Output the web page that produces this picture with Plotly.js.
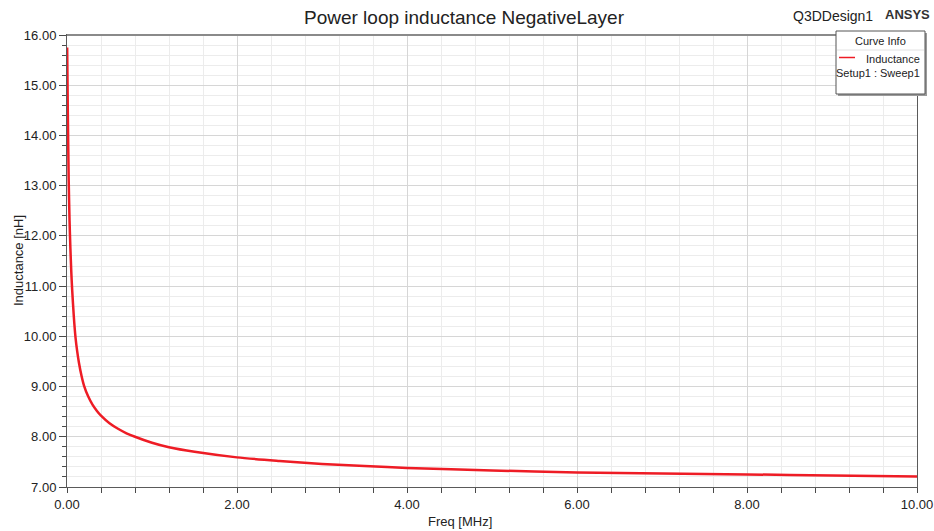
<!DOCTYPE html>
<html>
<head>
<meta charset="utf-8">
<script src="https://cdn.plot.ly/plotly-3.0.1.min.js"></script>
<style>
  html, body { margin: 0; padding: 0; background: #ffffff; }
  #chart { width: 934px; height: 531px; }
</style>
</head>
<body>
<div id="chart"></div>
<script>
// Frequency sweep (MHz) and loop inductance (nH)
const freqMHz = [0.002, 0.01, 0.02, 0.03, 0.04, 0.05, 0.06, 0.08, 0.1, 0.12, 0.14, 0.17,
  0.2, 0.25, 0.3, 0.35, 0.4, 0.5, 0.6, 0.7, 0.8, 1.0, 1.2, 1.5, 2.0, 2.5, 3.0, 3.5,
  4.0, 5.0, 6.0, 7.0, 8.0, 9.0, 10.0];
const inductanceNH = [15.75, 14.4, 13.1, 12.3, 11.75, 11.3, 10.95, 10.4, 9.98, 9.7, 9.48, 9.22,
  9.02, 8.8, 8.64, 8.52, 8.42, 8.27, 8.16, 8.07, 8.0, 7.88, 7.79, 7.7, 7.59, 7.52, 7.46, 7.42,
  7.38, 7.33, 7.29, 7.27, 7.25, 7.23, 7.21];

const curveName = 'Inductance';
const curveSetup = 'Setup1 : Sweep1';
const designName = 'Q3DDesign1';
const vendor = 'ANSYS';

const W = 934, H = 531;
const M = { l: 67, r: 17, t: 35, b: 44 };
const PW = W - M.l - M.r, PH = H - M.t - M.b;
// pixel -> paper helpers for the decorations around the plot
const px = x => (x - M.l) / PW;
const py = y => (H - M.b - y) / PH;

const FONT = 'Arial, "Liberation Sans", sans-serif';
const RED = '#ee1c25';

const trace = {
  x: freqMHz,
  y: inductanceNH,
  type: 'scatter',
  mode: 'lines',
  line: { color: RED, width: 2.5, shape: 'spline', smoothing: 0.7 },
  hoverinfo: 'x+y',
  showlegend: false
};

const axisCommon = {
  showline: true, linecolor: '#5a5a5a', linewidth: 1, mirror: true,
  ticks: 'outside', tickcolor: '#4a4a4a', tickwidth: 1,
  tickformat: '.2f', zeroline: false,
  tickfont: { family: FONT, size: 13, color: '#222' },
  gridcolor: '#d6d6d6', gridwidth: 1
};

const layout = {
  width: W, height: H,
  margin: M,
  paper_bgcolor: '#ffffff', plot_bgcolor: '#ffffff',
  font: { family: FONT, color: '#222' },
  title: {
    text: 'Power loop inductance NegativeLayer',
    font: { family: FONT, size: 19, color: '#222' },
    xref: 'container', yref: 'container',
    x: 464 / W, y: 1 - 17 / H, xanchor: 'center', yanchor: 'middle'
  },
  xaxis: Object.assign({}, axisCommon, {
    range: [0, 10], tick0: 0, dtick: 2, ticklen: 5,
    minor: { dtick: 0.4, tick0: 0, ticks: 'outside', ticklen: 5, tickcolor: '#4a4a4a',
             showgrid: true, gridcolor: '#ececec', gridwidth: 1 }
  }),
  yaxis: Object.assign({}, axisCommon, {
    range: [7, 16], tick0: 7, dtick: 1, ticklen: 7,
    minor: { dtick: 0.2, tick0: 7, ticks: 'outside', ticklen: 4, tickcolor: '#4a4a4a',
             showgrid: true, gridcolor: '#ececec', gridwidth: 1 }
  }),
  shapes: [
    // heavier top frame edge
    { type: 'line', xref: 'paper', yref: 'paper', x0: 0, x1: 1, y0: 1, y1: 1,
      line: { color: '#8a8a8a', width: 2 }, layer: 'above' },
    // curve info box with drop shadow
    { type: 'rect', xref: 'paper', yref: 'paper', x0: px(838), x1: px(927), y0: py(33), y1: py(96),
      fillcolor: '#9a9a9a', line: { width: 0 }, layer: 'above' },
    { type: 'rect', xref: 'paper', yref: 'paper', x0: px(836), x1: px(925), y0: py(31), y1: py(94),
      fillcolor: '#ffffff', line: { color: '#555', width: 1 }, layer: 'above' },
    { type: 'line', xref: 'paper', yref: 'paper', x0: px(837), x1: px(924), y0: py(50), y1: py(50),
      line: { color: '#e2e2e2', width: 1 }, layer: 'above' },
    { type: 'line', xref: 'paper', yref: 'paper', x0: px(839), x1: px(855), y0: py(57.5), y1: py(57.5),
      line: { color: RED, width: 1.5 }, layer: 'above' }
  ],
  annotations: [
    { text: 'Freq [MHz]', xref: 'paper', yref: 'paper', x: px(460), y: py(521),
      xanchor: 'center', yanchor: 'middle', showarrow: false,
      font: { family: FONT, size: 13, color: '#222' } },
    { text: 'Inductance [nH]', xref: 'paper', yref: 'paper', x: px(18), y: py(261),
      xanchor: 'center', yanchor: 'middle', showarrow: false, textangle: -90,
      font: { family: FONT, size: 13, color: '#222' } },
    { text: designName, xref: 'paper', yref: 'paper', x: px(875), y: py(16),
      xanchor: 'right', yanchor: 'middle', showarrow: false,
      font: { family: FONT, size: 14, color: '#222' } },
    { text: '<b>' + vendor + '</b>', xref: 'paper', yref: 'paper', x: px(932), y: py(14),
      xanchor: 'right', yanchor: 'middle', showarrow: false,
      font: { family: FONT, size: 13, color: '#333' } },
    { text: 'Curve Info', xref: 'paper', yref: 'paper', x: px(880.5), y: py(41),
      xanchor: 'center', yanchor: 'middle', showarrow: false,
      font: { family: FONT, size: 11, color: '#222' } },
    { text: curveName, xref: 'paper', yref: 'paper', x: px(922), y: py(59),
      xanchor: 'right', yanchor: 'middle', showarrow: false,
      font: { family: FONT, size: 11, color: '#222' } },
    { text: curveSetup, xref: 'paper', yref: 'paper', x: px(922), y: py(73),
      xanchor: 'right', yanchor: 'middle', showarrow: false,
      font: { family: FONT, size: 11, color: '#222' } }
  ]
};

Plotly.newPlot('chart', [trace], layout, { displayModeBar: false, responsive: false });
</script>
</body>
</html>
